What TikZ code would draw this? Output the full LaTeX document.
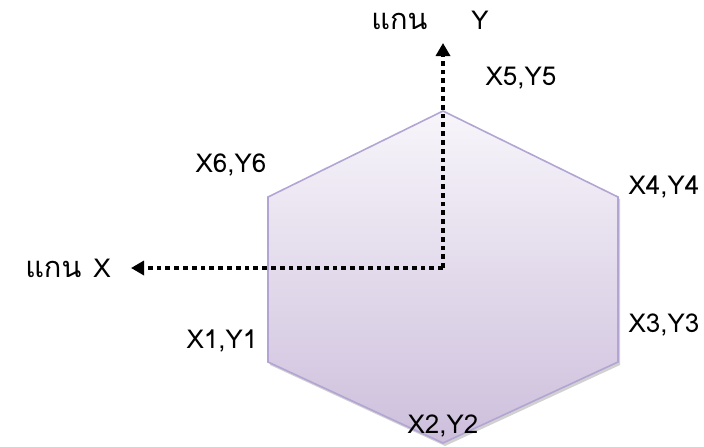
\documentclass[tikz,border=0pt]{standalone}
\usepackage{fontspec}
\setmainfont[Script=Thai]{Loma}
\usetikzlibrary{arrows.meta,calc}
\definecolor{hexborder}{HTML}{B3A5D3}
\definecolor{hextop}{HTML}{F7F5FA}
\definecolor{hexbot}{HTML}{CDBFDC}
\tikzset{
  lbl/.style={font=\fontsize{26}{30}\selectfont, inner sep=0pt},
  axis/.style={line width=4.8pt, dash pattern=on 4.8pt off 4pt,
     -{Triangle[length=13pt,width=14pt]}, shorten >=-2pt}
}
\begin{document}
\begin{tikzpicture}[x=1pt,y=-1pt]
\useasboundingbox (0,0) rectangle (704,447);
\coordinate (v5) at (443,111);
\coordinate (v4) at (618,197);
\coordinate (v3) at (618,362);
\coordinate (v2) at (443,443);
\coordinate (v1) at (268,362);
\coordinate (v6) at (268,197);
\coordinate (o) at (443,268);
\coordinate (xe) at (133,268);
\coordinate (ye) at (443,45);
% shadow
\fill[gray!60, opacity=0.6] ($(v5)+(2,2)$) -- ($(v4)+(2,2)$) -- ($(v3)+(2,3)$) -- ($(v2)+(2,3)$) -- ($(v1)+(2,3)$) -- ($(v6)+(2,2)$) -- cycle;
\shade[top color=hextop, bottom color=hexbot, draw=hexborder, line width=1.6pt, line join=miter]
  (v5) -- (v4) -- (v3) -- (v2) -- (v1) -- (v6) -- cycle;
\draw[axis] (o) -- (xe);
\draw[axis] (o) -- (ye);
\node[lbl] (t5) at (521,78) {X5,Y5};
\node[lbl] (t6) at (231,165) {X6,Y6};
\node[lbl] (t4) at (664,187) {X4,Y4};
\node[lbl] (t3) at (664,325) {X3,Y3};
\node[lbl] (t1) at (222,341) {X1,Y1};
\node[lbl] (t2) at (443,426) {X2,Y2};
\node[lbl] (ay) at (430,20) {{\fontsize{29}{32}\selectfont แกน}\hspace{44pt}Y};
\node[lbl] (ax) at (68,268) {{\fontsize{29}{32}\selectfont แกน}\hspace{12pt}X};
\end{tikzpicture}
\end{document}
